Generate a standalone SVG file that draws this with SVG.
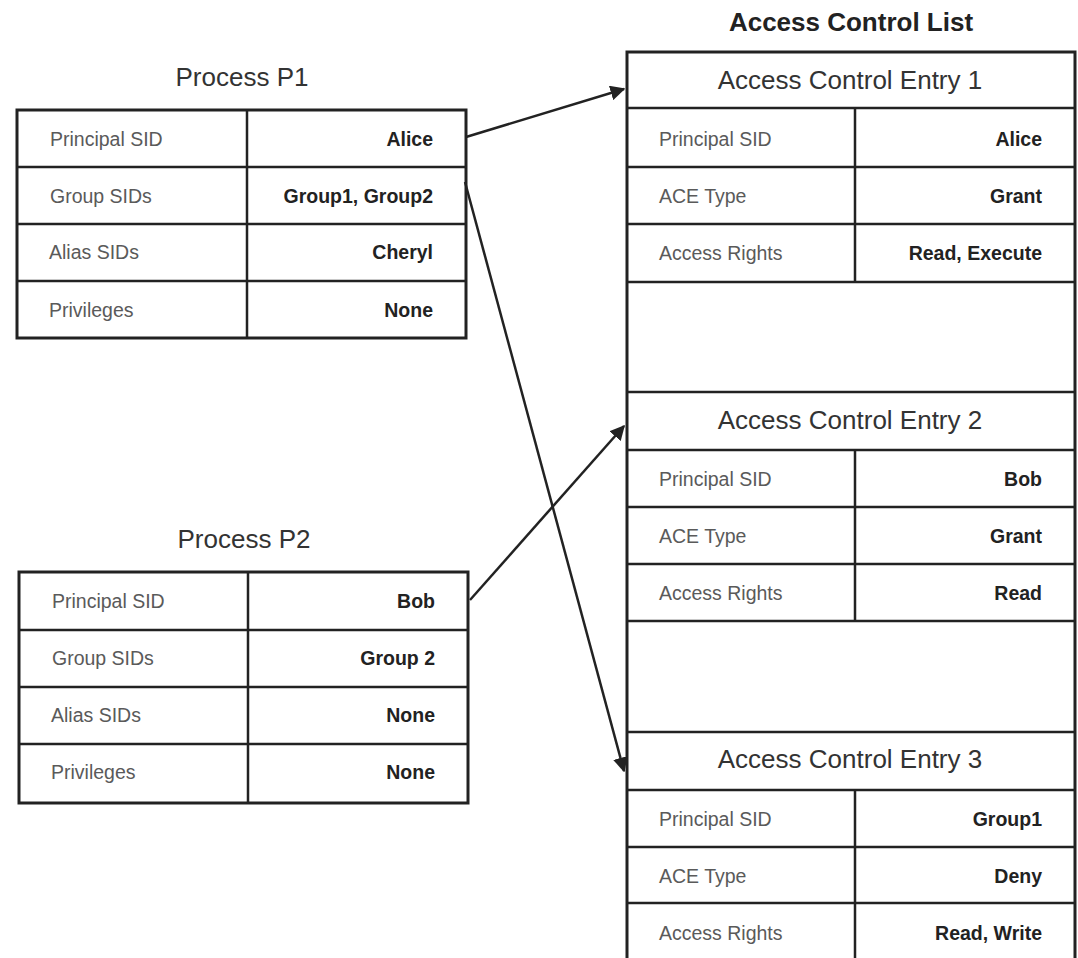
<svg xmlns="http://www.w3.org/2000/svg" width="1078" height="958" viewBox="0 0 1078 958">
<defs>
<style>
.box{fill:#fff;stroke:#222;stroke-width:3}
.ln{stroke:#222;stroke-width:2.5;fill:none}
.lab{font-family:"Liberation Sans",Arial,sans-serif;font-size:19.5px;fill:#5a5a5a}
.val{font-family:"Liberation Sans",Arial,sans-serif;font-size:19.5px;font-weight:bold;fill:#222;text-anchor:end}
.hdr{font-family:"Liberation Sans",Arial,sans-serif;font-size:26px;fill:#333;text-anchor:middle}
.ttl{font-family:"Liberation Sans",Arial,sans-serif;font-size:26px;font-weight:bold;fill:#222;text-anchor:middle}
.conn{stroke:#222;stroke-width:2.5;fill:none;marker-end:url(#ah)}
</style>
<marker id="ah" viewBox="0 0 10 10" refX="9" refY="5" markerWidth="6" markerHeight="6" markerUnits="strokeWidth" orient="auto">
<path d="M0,0 L10,5 L0,10 z" fill="#222"/>
</marker>
</defs>
<rect width="1078" height="958" fill="#fff"/>

<g id="p1">
<text class="hdr" x="242" y="86">Process P1</text>
<rect class="box" x="17" y="110" width="449" height="228"/>
<path class="ln" d="M17,167H466M17,224H466M17,281H466M247,110V338"/>
<text class="lab" x="50" y="146">Principal SID</text><text class="val" x="433" y="146">Alice</text>
<text class="lab" x="50" y="203">Group SIDs</text><text class="val" x="433" y="203">Group1, Group2</text>
<text class="lab" x="49" y="259">Alias SIDs</text><text class="val" x="433" y="259">Cheryl</text>
<text class="lab" x="49" y="317">Privileges</text><text class="val" x="433" y="317">None</text>
</g>

<g id="p2">
<text class="hdr" x="244" y="548">Process P2</text>
<rect class="box" x="19" y="572" width="449" height="231"/>
<path class="ln" d="M19,630H468M19,687H468M19,744H468M248,572V803"/>
<text class="lab" x="52" y="608">Principal SID</text><text class="val" x="435" y="608">Bob</text>
<text class="lab" x="52" y="665">Group SIDs</text><text class="val" x="435" y="665">Group 2</text>
<text class="lab" x="51" y="722">Alias SIDs</text><text class="val" x="435" y="722">None</text>
<text class="lab" x="51" y="779">Privileges</text><text class="val" x="435" y="779">None</text>
</g>

<g id="acl">
<text class="ttl" x="851" y="31">Access Control List</text>
<path class="box" d="M627,960V52H1075V960"/>
</g>

<g id="ace1">
<path class="ln" d="M627,108H1075M627,167H1075M627,224H1075M627,282H1075M855,108V282"/>
<text class="hdr" x="850" y="89">Access Control Entry 1</text>
<text class="lab" x="659" y="146">Principal SID</text><text class="val" x="1042" y="146">Alice</text>
<text class="lab" x="659" y="203">ACE Type</text><text class="val" x="1042" y="203">Grant</text>
<text class="lab" x="659" y="260">Access Rights</text><text class="val" x="1042" y="260">Read, Execute</text>
</g>

<g id="ace2">
<path class="ln" d="M627,392H1075M627,450H1075M627,507H1075M627,564H1075M627,621H1075M855,450V621"/>
<text class="hdr" x="850" y="429">Access Control Entry 2</text>
<text class="lab" x="659" y="486">Principal SID</text><text class="val" x="1042" y="486">Bob</text>
<text class="lab" x="659" y="543">ACE Type</text><text class="val" x="1042" y="543">Grant</text>
<text class="lab" x="659" y="600">Access Rights</text><text class="val" x="1042" y="600">Read</text>
</g>

<g id="ace3">
<path class="ln" d="M627,732H1075M627,790H1075M627,847H1075M627,903H1075M855,790V960"/>
<text class="hdr" x="850" y="768">Access Control Entry 3</text>
<text class="lab" x="659" y="826">Principal SID</text><text class="val" x="1042" y="826">Group1</text>
<text class="lab" x="659" y="883">ACE Type</text><text class="val" x="1042" y="883">Deny</text>
<text class="lab" x="659" y="940">Access Rights</text><text class="val" x="1042" y="940">Read, Write</text>
</g>

<g id="connectors">
<line class="conn" x1="466" y1="137" x2="624" y2="89"/>
<line class="conn" x1="465" y1="182" x2="624" y2="771"/>
<line class="conn" x1="470" y1="600" x2="624" y2="426"/>
</g>
</svg>
